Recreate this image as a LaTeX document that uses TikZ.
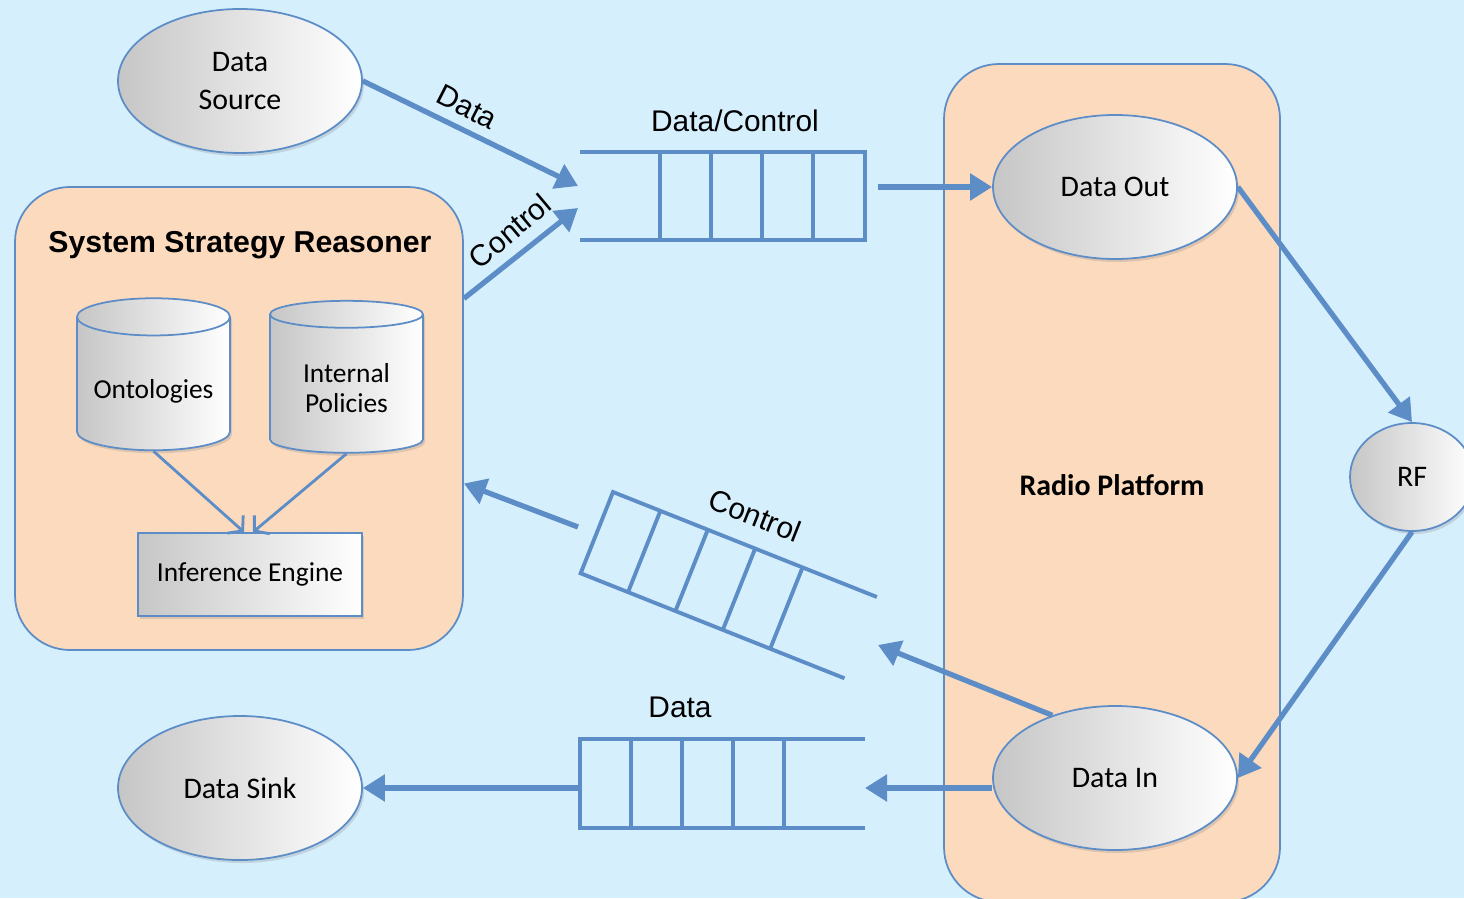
\documentclass[tikz,border=0pt]{standalone}
\usepackage{fontspec}
\setmainfont{Carlito}
\newfontfamily\arialfont{Liberation Sans}
\usetikzlibrary{shapes.geometric,arrows.meta,shadows}

\definecolor{bgblue}{RGB}{214,239,253}
\definecolor{peach}{RGB}{252,218,190}
\definecolor{lineblue}{RGB}{92,141,199}
\definecolor{shadegray}{RGB}{198,198,198}

\begin{document}
\begin{tikzpicture}[
    font=\fontsize{8.5}{10.6}\selectfont,
    softshadow/.style={drop shadow={opacity=0.25, shadow xshift=0.02cm, shadow yshift=-0.03cm}},
    blob/.style={ellipse, draw=lineblue, line width=0.5pt, left color=shadegray, right color=white,
        minimum width=2.44cm, minimum height=1.44cm, inner sep=0pt, align=center, softshadow},
    store/.style={cylinder, shape border rotate=90, aspect=0.31, draw=lineblue, line width=0.5pt,
        left color=shadegray, right color=white, minimum width=1.53cm, minimum height=1.52cm,
        inner sep=0pt, align=center, font=\fontsize{7.8}{9.2}\selectfont, softshadow},
    engine/.style={rectangle, draw=lineblue, line width=0.5pt, left color=shadegray, right color=white,
        minimum width=2.24cm, minimum height=0.83cm, font=\fontsize{7.8}{9.2}\selectfont, softshadow},
    panel/.style={draw=lineblue, line width=0.5pt, fill=peach, rounded corners=0.55cm},
    queue/.style={draw=lineblue, line width=1.1pt},
    flow/.style={draw=lineblue, line width=1.5pt, -{Triangle[length=0.22cm, width=0.26cm]}},
    link/.style={draw=lineblue, line width=0.8pt, -{Straight Barb[length=0.1cm, width=0.24cm]}},
    lbl/.style={font=\arialfont\fontsize{8.5}{10.5}\selectfont},
]
    % Background
    \fill[bgblue] (0,0) rectangle (14.64,-8.98);
    \useasboundingbox (0,0) rectangle (14.64,-8.98);

    % Containers
    \node[panel, minimum width=4.48cm, minimum height=4.63cm] (ssr) at (2.39,-4.185) {};
    \node[panel, minimum width=3.36cm, minimum height=8.38cm] (radio) at (11.12,-4.83) {};
    \node[font=\arialfont\bfseries\fontsize{8.6}{10.5}\selectfont] (ssrtitle) at (2.40,-2.45) {System Strategy Reasoner};
    \node[font=\bfseries\fontsize{8.5}{10.5}\selectfont] (radiotitle) at (11.12,-4.85) {Radio Platform};

    % Reasoner parts
    \node[store] (onto) at (1.535,-3.84) {\raisebox{-0.07cm}[\height][\depth]{Ontologies}};
    \node[store] (pol) at (3.465,-3.84) {\raisebox{-0.07cm}[\height][\depth]{%
        \begin{tabular}{@{}c@{}}Internal\\[-0.03cm]Policies\end{tabular}}};
    \node[engine] (ie) at (2.50,-5.745) {Inference Engine};
    \draw[link] (onto.south) -- ([xshift=-0.06cm]ie.north);
    \draw[link] (pol.south) -- ([xshift=0.03cm]ie.north);

    % Sources, sinks and radio parts
    \node[blob] (dsrc) at (2.40,-0.81) {Data\\Source};
    \node[blob] (dsink) at (2.40,-7.88) {Data Sink};
    \node[blob] (dout) at (11.15,-1.87) {Data Out};
    \node[blob] (din) at (11.15,-7.78) {Data In};
    \node[blob, minimum width=1.24cm, minimum height=1.08cm] (rf) at (14.12,-4.77) {RF};

    % Data/Control queue
    \draw[queue] (5.80,-1.52) -- (8.65,-1.52) -- (8.65,-2.40) -- (5.80,-2.40);
    \foreach \x in {6.60,7.11,7.62,8.13}
        \draw[queue] (\x,-1.52) -- (\x,-2.40);
    \coordinate (dcq-in1) at (5.78,-1.86);
    \coordinate (dcq-in2) at (5.78,-2.08);
    \coordinate (dcq-out) at (8.78,-1.87);
    \node[lbl] (dcq-lbl) at (7.35,-1.21) {Data/Control};

    % Control queue (tilted)
    \begin{scope}[shift={(6.13,-4.92)}, rotate=-21.7]
        \draw[queue] (2.84,0) -- (0,0) -- (0,-0.875) -- (2.84,-0.875);
        \foreach \x in {0.51,1.02,1.53,2.04}
            \draw[queue] (\x,0) -- (\x,-0.875);
    \end{scope}
    \coordinate (cq-in) at (8.78,-6.45);
    \coordinate (cq-out) at (5.78,-5.27);
    \node[lbl, rotate=-21.7] (cq-lbl) at (7.55,-5.15) {Control};

    % Data queue
    \draw[queue] (8.65,-7.39) -- (5.80,-7.39) -- (5.80,-8.28) -- (8.65,-8.28);
    \foreach \x in {6.31,6.82,7.33,7.84}
        \draw[queue] (\x,-7.39) -- (\x,-8.28);
    \coordinate (dq-in) at (8.65,-7.88);
    \coordinate (dq-out) at (5.80,-7.88);
    \node[lbl] (dq-lbl) at (6.80,-7.07) {Data};

    % Flows
    \draw[flow] (dsrc.east) -- (dcq-in1);
    \draw[flow] ([yshift=1.2cm]ssr.east) -- (dcq-in2);
    \draw[flow] (dcq-out) -- (dout.west);
    \draw[flow] (dout.east) -- (rf.north);
    \draw[flow] (rf.south) -- (din.east);
    \draw[flow] (din.135) -- (cq-in);
    \draw[flow] (cq-out) -- ([yshift=-0.65cm]ssr.east);
    \draw[flow] (din.west |- dq-in) -- (dq-in);
    \draw[flow] (dq-out) -- (dsink.east);

    % Flow labels
    \node[lbl, rotate=-27] (data-lbl) at (4.67,-1.07) {Data};
    \node[lbl, rotate=40] (ctl-lbl) at (5.10,-2.31) {Control};
\end{tikzpicture}
\end{document}
